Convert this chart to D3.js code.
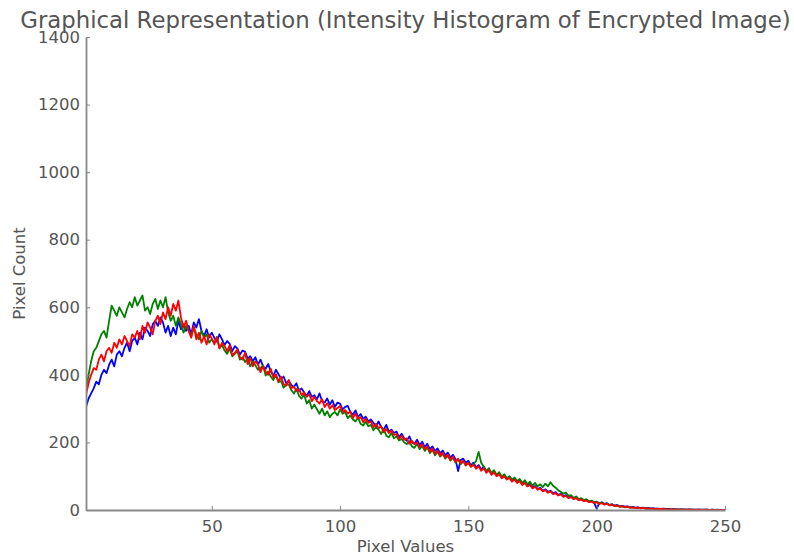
<!DOCTYPE html>
<html lang="en">
<head>
    <meta charset="UTF-8">
    <title>Intensity Histogram of Encrypted Image</title>
    <script src="https://d3js.org/d3.v7.min.js"></script>
    <style>
        body { margin: 0; background: #fff; }
        svg text { font-family: "DejaVu Sans", sans-serif; fill: #555; }
    </style>
</head>
<body>
    <svg id="chart" width="794" height="556"></svg>
    <script>
        // pixel counts per intensity value 0..255, one array per channel
        const blueCounts = [
            290, 305, 330, 345, 360, 380, 372, 400, 415, 405,
            430, 445, 425, 460, 470, 455, 480, 495, 470, 500,
            510, 490, 525, 505, 540, 530, 515, 550, 560, 545,
            570, 555, 525, 545, 515, 540, 520, 560, 535, 550,
            530, 545, 520, 555, 540, 565, 530, 515, 535, 510,
            525, 510, 498, 520, 505, 488, 500, 492, 470, 485,
            478, 460, 472, 468, 448, 455, 440, 452, 430, 445,
            425, 418, 432, 410, 398, 415, 402, 388, 395, 375,
            382, 370, 364, 375, 352, 360, 348, 338, 352, 335,
            340, 328, 345, 322, 318, 330, 312, 325, 305, 318,
            315, 298, 305, 308, 290, 282, 295, 276, 284, 270,
            276, 262, 268, 258, 248, 262, 245, 238, 252, 232,
            238, 228, 232, 215, 226, 212, 205, 218, 200, 196,
            208, 192, 202, 186, 196, 180, 188, 175, 182, 168,
            176, 162, 170, 155, 163, 150, 115, 148, 152, 140,
            146, 132, 140, 126, 133, 120, 128, 114, 120, 108,
            115, 102, 110, 97, 104, 92, 98, 88, 93, 82,
            88, 78, 83, 72, 77, 67, 71, 62, 66, 57,
            61, 54, 57, 49, 53, 45, 48, 41, 44, 37,
            40, 34, 37, 30, 33, 28, 30, 24, 27, 22,
            4, 20, 23, 18, 20, 15, 17, 13, 15, 11,
            12, 10, 11, 8, 9, 7, 8, 6, 7, 5,
            6, 5, 5, 4, 4, 3, 4, 3, 3, 2,
            3, 2, 2, 2, 2, 1, 2, 1, 1, 1,
            1, 1, 1, 1, 0, 1, 0, 1, 0, 0,
            0, 0, 0, 0, 0, 0
        ];
        const greenCounts = [
            330, 355, 400, 440, 470, 480, 500, 520, 530, 510,
            560, 605, 590, 575, 600, 585, 570, 595, 615, 600,
            630, 605, 620, 635, 590, 600, 580, 610, 625, 595,
            620, 600, 630, 585, 560, 575, 545, 570, 550, 525,
            545, 530, 515, 540, 520, 505, 530, 510, 520, 495,
            505, 495, 512, 480, 488, 472, 462, 478, 455, 462,
            470, 445, 452, 438, 448, 425, 440, 428, 415, 420,
            428, 398, 410, 395, 385, 400, 378, 382, 362, 370,
            372, 355, 345, 358, 338, 330, 342, 315, 325, 300,
            312, 298, 285, 300, 280, 292, 275, 285, 290, 280,
            298, 285, 290, 272, 280, 268, 262, 275, 255, 250,
            262, 248, 252, 236, 245, 238, 225, 240, 220, 215,
            228, 212, 218, 206, 210, 200, 195, 204, 188, 184,
            196, 180, 190, 175, 185, 168, 178, 162, 172, 158,
            166, 152, 160, 146, 155, 140, 150, 136, 144, 132,
            140, 128, 136, 145, 172, 140, 128, 115, 124, 110,
            118, 104, 112, 98, 106, 94, 100, 90, 96, 86,
            92, 80, 88, 76, 84, 72, 80, 70, 76, 68,
            78, 70, 82, 72, 66, 58, 54, 48, 52, 42,
            44, 36, 40, 32, 35, 29, 32, 26, 28, 23,
            25, 20, 22, 17, 19, 15, 17, 12, 14, 10,
            11, 8, 9, 7, 8, 6, 7, 5, 6, 4,
            5, 4, 4, 3, 3, 3, 3, 2, 2, 2,
            2, 2, 1, 2, 1, 1, 1, 1, 1, 0,
            1, 0, 1, 0, 0, 1, 0, 0, 0, 0,
            0, 0, 0, 0, 0, 0
        ];
        const redCounts = [
            310, 340, 375, 400, 420, 415, 445, 460, 440, 470,
            480, 465, 495, 480, 505, 490, 515, 500, 485, 520,
            510, 530, 505, 545, 525, 555, 540, 520, 560, 575,
            550, 585, 565, 600, 575, 610, 590, 620, 570, 540,
            560, 530, 510, 545, 505, 525, 495, 515, 490, 520,
            508, 490, 512, 478, 495, 485, 470, 488, 458, 465,
            475, 452, 445, 465, 432, 450, 425, 440, 432, 408,
            425, 410, 400, 418, 392, 402, 380, 395, 372, 368,
            385, 360, 365, 352, 358, 340, 348, 335, 342, 322,
            335, 322, 315, 328, 305, 316, 300, 310, 296, 302,
            308, 290, 296, 285, 292, 272, 285, 270, 275, 260,
            270, 258, 262, 245, 255, 242, 248, 230, 240, 228,
            235, 222, 225, 210, 220, 208, 212, 196, 205, 195,
            200, 186, 195, 180, 188, 172, 182, 166, 175, 160,
            170, 155, 164, 148, 158, 142, 152, 138, 146, 132,
            140, 128, 134, 122, 130, 116, 124, 110, 118, 104,
            112, 100, 106, 94, 100, 90, 95, 84, 90, 80,
            85, 74, 80, 70, 74, 64, 69, 60, 64, 55,
            59, 51, 55, 47, 50, 43, 46, 39, 42, 35,
            38, 32, 35, 29, 31, 26, 28, 23, 25, 20,
            23, 18, 20, 16, 18, 14, 15, 12, 13, 10,
            11, 9, 10, 7, 8, 6, 7, 5, 6, 4,
            5, 4, 4, 3, 3, 3, 3, 2, 2, 2,
            2, 2, 1, 1, 1, 1, 1, 1, 0, 1,
            1, 0, 0, 1, 0, 0, 0, 0, 0, 0,
            0, 0, 0, 0, 0, 0
        ];
        const xTicks = [50, 100, 150, 200, 250];
        const yTicks = [0, 200, 400, 600, 800, 1000, 1200, 1400];

        const svg = d3.select("#chart");
        const margin = {top: 37, right: 69, bottom: 46, left: 86},
            width = 794 - margin.left - margin.right,
            height = 556 - margin.top - margin.bottom;

        const x = d3.scaleLinear().domain([1, 250]).range([0, width]);
        const y = d3.scaleLinear().domain([0, 1400]).range([height, 0]);

        const g = svg.append("g").attr("transform", `translate(${margin.left},${margin.top})`);

        g.append("clipPath").attr("id", "plot-clip")
            .append("rect").attr("width", width).attr("height", height);

        const line = d3.line()
            .x((d, i) => x(i))
            .y(d => y(d));

        const series = [
            {values: blueCounts, color: "#0000ff"},
            {values: greenCounts, color: "#008000"},
            {values: redCounts, color: "#ff0000"}
        ];

        g.append("g").attr("clip-path", "url(#plot-clip)")
            .selectAll("path")
            .data(series)
            .join("path")
            .attr("fill", "none")
            .attr("stroke", d => d.color)
            .attr("stroke-width", 1.8)
            .attr("stroke-linejoin", "round")
            .attr("d", d => line(d.values));

        // axes: ticks point inward, like the original
        const xAxis = g.append("g")
            .attr("transform", `translate(0,${height})`)
            .call(d3.axisBottom(x).tickValues(xTicks).tickFormat(d3.format("d"))
                .tickSizeInner(-4).tickSizeOuter(0).tickPadding(10));
        const yAxis = g.append("g")
            .call(d3.axisLeft(y).tickValues(yTicks).tickFormat(d3.format("d"))
                .tickSizeInner(-4).tickSizeOuter(0).tickPadding(6));

        [xAxis, yAxis].forEach(a => {
            a.select(".domain").attr("stroke", "#888").attr("stroke-width", 1.8);
            a.selectAll(".tick line").attr("stroke", "#888").attr("stroke-width", 1);
            a.selectAll(".tick text").style("font-size", "16.5px").attr("fill", "#555");
        });

        svg.append("text")
            .attr("x", margin.left + width / 2)
            .attr("y", 28)
            .attr("text-anchor", "middle")
            .style("font-size", "22.8px")
            .text("Graphical Representation (Intensity Histogram of Encrypted Image)");

        svg.append("text")
            .attr("x", margin.left + width / 2)
            .attr("y", 552)
            .attr("text-anchor", "middle")
            .style("font-size", "16.5px")
            .text("Pixel Values");

        svg.append("text")
            .attr("transform", `translate(25,${margin.top + height / 2}) rotate(-90)`)
            .attr("text-anchor", "middle")
            .style("font-size", "16.5px")
            .text("Pixel Count");
    </script>
</body>
</html>
